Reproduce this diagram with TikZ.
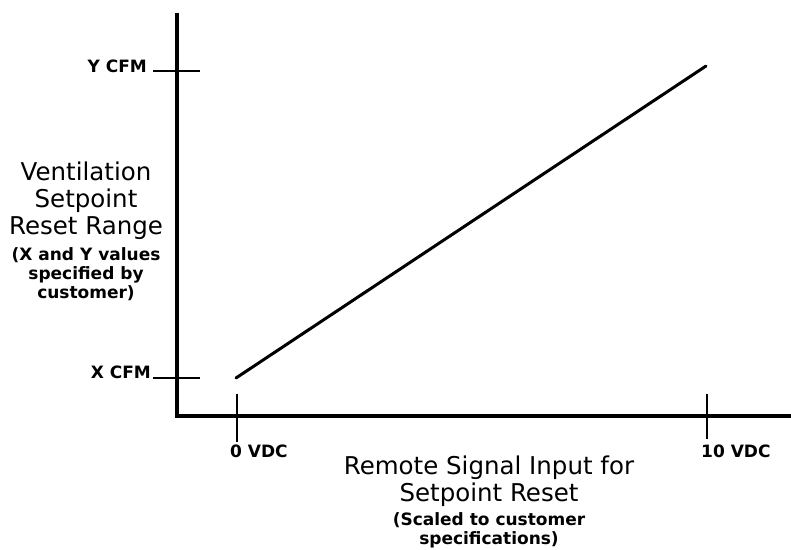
\documentclass[tikz,border=0pt]{standalone}
\usepackage{fontspec}
\setmainfont{DejaVu Sans}
\usetikzlibrary{positioning}

\tikzset{
  axisline/.style={line width=4.5pt},
  tickmark/.style={line width=2pt},
  resetline/.style={line width=3pt, line cap=round},
  bigtext/.style={inner sep=0pt, align=center, font=\fontsize{24.5}{27}\selectfont},
  smalltext/.style={inner sep=0pt, align=center, font=\bfseries\fontsize{17}{19}\selectfont},
  ticklabel/.style={inner sep=0pt, font=\bfseries\fontsize{17}{19}\selectfont},
}

\begin{document}
\begin{tikzpicture}[x=1pt, y=-1pt]
  \useasboundingbox (0,0) rectangle (791,549);

  % axes
  \coordinate (ytop) at (177,13);
  \coordinate (orig) at (177,416);
  \coordinate (xend) at (791,416);
  \draw[axisline] (ytop) -- (orig) -- (xend);

  % ticks on the flow axis
  \coordinate (yhi) at (177,71);
  \coordinate (ylo) at (177,378);
  \draw[tickmark] ([xshift=-24]yhi) -- ([xshift=23]yhi);
  \draw[tickmark] ([xshift=-24]ylo) -- ([xshift=23]ylo);
  \node[ticklabel, anchor=base east] (ycfm) at (147,72) {Y CFM};
  \node[ticklabel, anchor=base east] (xcfm) at (151,378) {X CFM};

  % ticks on the signal axis
  \coordinate (vlo) at (237,416);
  \coordinate (vhi) at (707,416);
  \draw[tickmark] ([yshift=-26]vlo) -- ([yshift=22]vlo);
  \draw[tickmark] ([yshift=-23]vhi) -- ([yshift=22]vhi);
  \node[ticklabel, anchor=base west] (zerov) at (230,457) {0 VDC};
  \node[ticklabel, anchor=base west] (tenv) at (701,457) {10 VDC};

  % reset line
  \coordinate (p0) at (236,378);
  \coordinate (p1) at (706,66);
  \draw[resetline] (p0) -- (p1);

  % axis titles
  \node[bigtext, anchor=north] (ytitle) at (86,161.5) {Ventilation\\Setpoint\\Reset Range};
  \node[smalltext, anchor=north] (ynote) at (86,247) {(X and Y values\\specified by\\customer)};
  \node[bigtext, anchor=north] (xtitle) at (489,455.5) {Remote Signal Input for\\Setpoint Reset};
  \node[smalltext, anchor=north] (xnote) at (489,512) {(Scaled to customer\\specifications)};
\end{tikzpicture}
\end{document}
